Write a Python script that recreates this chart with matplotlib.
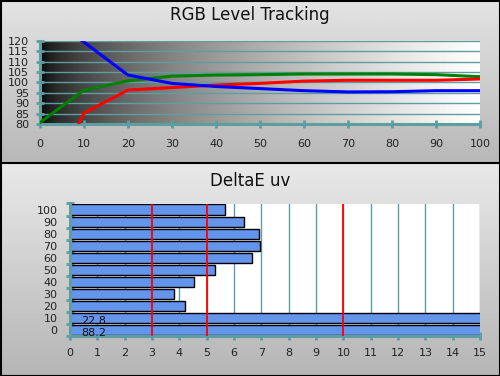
import numpy as np
import matplotlib
matplotlib.use("Agg")
import matplotlib.pyplot as plt
from matplotlib.patches import Rectangle

plt.rcParams['font.family'] = ['DejaVu Sans']

# ---- data ----
levels = [0, 10, 20, 30, 40, 50, 60, 70, 80, 90, 100]
red = [42, 85.2, 96.3, 97.5, 98.7, 99.5, 100.6, 101.0, 101.0, 101.0, 101.6]
green = [80.7, 96.3, 100.7, 103.0, 103.5, 103.7, 104.0, 104.0, 104.0, 103.7, 102.7]
blue = [135, 119.3, 103.5, 99.5, 98.0, 97.0, 96.0, 95.4, 95.5, 96.0, 96.0]

de_labels = ["0", "10", "20", "30", "40", "50", "60", "70", "80", "90", "100"]
de_values = [88.2, 22.8, 4.22, 3.82, 4.55, 5.32, 6.67, 6.96, 6.93, 6.38, 5.68]
thresholds = [3, 5, 10]

TEAL = "#5f9ea0"
W, H = 500, 376
fig = plt.figure(figsize=(W / 100, H / 100), dpi=100)

# ---- panel backgrounds ----
bg = fig.add_axes([0, 0, 1, 1], zorder=-10)
bg.axis("off")
split = H - 163
g1 = np.linspace(0.72, 0.89, 64).reshape(-1, 1)
bg.imshow(g1, extent=[0, W, split, H], origin="lower", cmap="gray",
          vmin=0, vmax=1, aspect="auto")
g2 = np.linspace(0.71, 0.91, 64).reshape(-1, 1)
bg.imshow(g2, extent=[0, W, 0, split], origin="lower", cmap="gray",
          vmin=0, vmax=1, aspect="auto")
bg.add_patch(Rectangle((0.5, 0.5), W - 1, H - 1, fill=False, ec="black", lw=1.5))
bg.plot([0, W], [split, split], color="black", lw=1.5)
bg.set_xlim(0, W)
bg.set_ylim(0, H)

fig.text(0.5, 1 - 15 / H, "RGB Level Tracking", ha="center", va="center",
         fontsize=12, color="#111111")
fig.text(0.5, 1 - 181 / H, "DeltaE uv", ha="center", va="center",
         fontsize=12, color="#111111")

# ---- top chart ----
ax1 = fig.add_axes([40 / W, 1 - 124 / H, 440 / W, (124 - 40.7) / H])
t = np.linspace(0, 1, 256).reshape(1, -1) ** 0.55
ax1.imshow(t, extent=[0, 100, 80, 120], cmap="gray", vmin=0, vmax=1,
           aspect="auto", zorder=0)
ax1.set_xlim(0, 100)
ax1.set_ylim(80, 120)
for y in range(80, 121, 5):
    ax1.axhline(y, color=TEAL, lw=1.0, zorder=1)
ax1.plot(levels, green, color="#008000", lw=2.2, zorder=3, clip_on=True)
ax1.plot(levels, red, color="#ff0000", lw=2.2, zorder=3, clip_on=True)
ax1.plot(levels, blue, color="#0000ff", lw=2.2, zorder=4, clip_on=True)
ax1.set_xticks(range(0, 101, 10))
ax1.set_yticks(range(80, 121, 5))
for s in ["top", "right"]:
    ax1.spines[s].set_visible(False)
for s in ["left", "bottom"]:
    ax1.spines[s].set_color(TEAL)
    ax1.spines[s].set_linewidth(2.2)
ax1.tick_params(axis="both", colors=TEAL, direction="inout", length=6,
                width=2, labelcolor="#222222", labelsize=8)
ax1.tick_params(axis="x", pad=8)
ax1.tick_params(axis="y", pad=5)

# ---- bottom chart ----
ax2 = fig.add_axes([70 / W, 1 - 336 / H, 410 / W, (336 - 203.5) / H])
ax2.set_facecolor("white")
ypos = np.arange(len(de_labels))
ax2.set_xlim(0, 15)
ax2.set_ylim(-0.5, len(de_labels) - 0.5)
for x in range(1, 16):
    ax2.axvline(x, color=TEAL, lw=1.0, zorder=1)
ax2.barh(ypos, de_values, height=0.84, color="#6495ed", edgecolor="black",
         lw=1.0, zorder=2)
for x in thresholds:
    ax2.axvline(x, color="#ff0000", lw=1.3, zorder=3)
for i, v in enumerate(de_values):
    if v > 15:
        ax2.text(0.42, ypos[i] - 0.28, f"{v:.1f}", ha="left", va="center",
                 fontsize=8, color="#111111", zorder=4)
ax2.set_xticks(range(0, 16))
ax2.set_yticks(ypos)
ax2.set_yticklabels(de_labels)
ax2.set_yticks(np.arange(-0.5, len(de_labels), 1), minor=True)
for s in ["top", "right"]:
    ax2.spines[s].set_visible(False)
for s in ["left", "bottom"]:
    ax2.spines[s].set_color(TEAL)
    ax2.spines[s].set_linewidth(2.2)
ax2.tick_params(axis="x", colors=TEAL, direction="inout", length=6, width=2,
                labelcolor="#222222", labelsize=8, pad=6)
ax2.tick_params(axis="y", which="major", length=0, labelcolor="#222222",
                labelsize=8, pad=9)
ax2.tick_params(axis="y", which="minor", colors=TEAL, direction="inout",
                length=6, width=2)

fig.savefig("out.png", dpi=100)
